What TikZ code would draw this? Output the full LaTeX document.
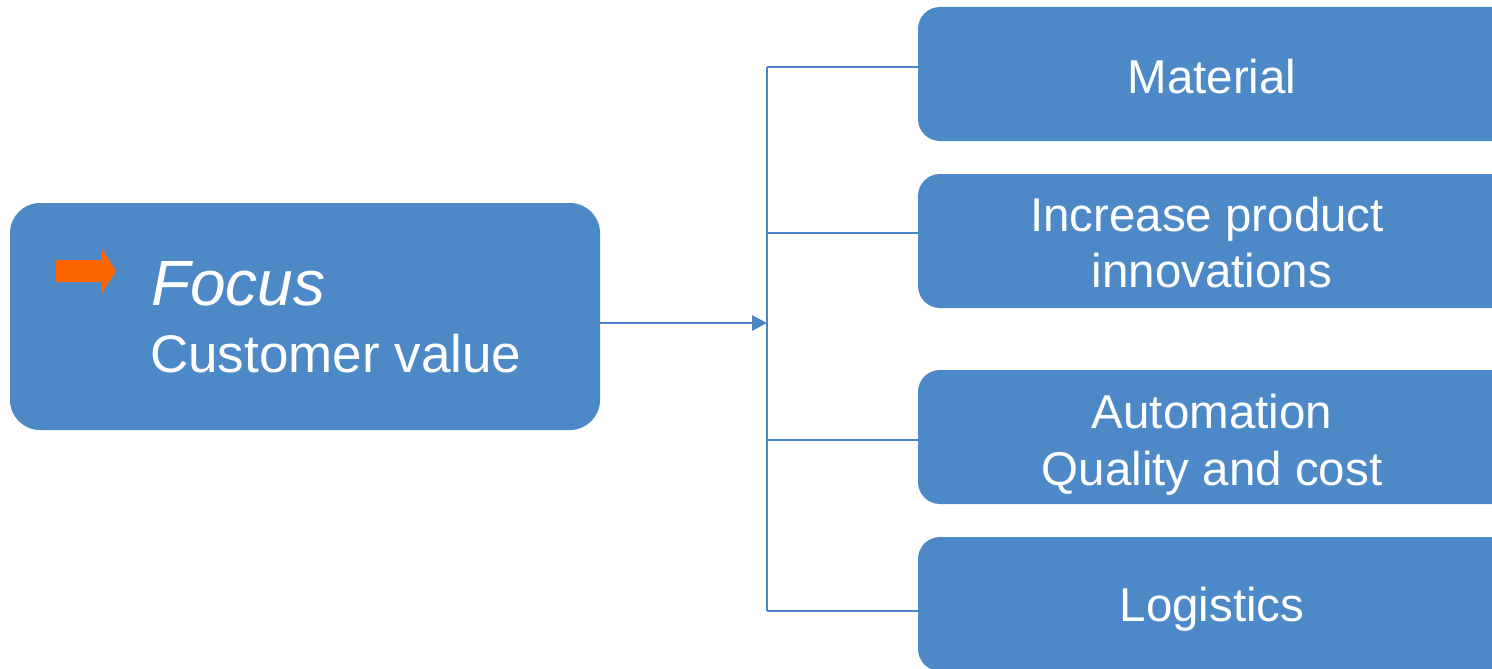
\documentclass[tikz,border=0pt]{standalone}
\usepackage{fontspec}
\setmainfont{Liberation Sans}
\usetikzlibrary{arrows.meta}
\definecolor{boxblue}{RGB}{78,137,199}
\definecolor{lineblue}{RGB}{74,134,197}
\definecolor{focusorange}{RGB}{255,102,0}
\tikzset{
  panel/.style={fill=boxblue, draw=none, rectangle, rounded corners=22pt, inner sep=0pt, outer sep=0pt, anchor=north west},
  sidebox/.style={panel, minimum width=600pt, minimum height=134pt},
  rtext/.style={text=white, inner sep=0pt, anchor=base, font=\fontsize{47.5}{56}\selectfont},
  link/.style={draw=lineblue, line width=2.8pt},
}
\begin{document}
\begin{tikzpicture}[x=1pt,y=-1pt]
\useasboundingbox (0,0) rectangle (1492,669);
% main box
\node[panel, rounded corners=30pt, minimum width=590pt, minimum height=227pt] (main) at (10,203) {};
\fill[focusorange] (56,260) -- (102,260) -- (102,249) -- (116,271) -- (102,293) -- (102,282) -- (56,282) -- cycle;
\node[text=white, inner sep=0pt, anchor=base west, font=\fontsize{64}{72}\selectfont\itshape] (focus) at (151,305) {Focus};
\node[text=white, inner sep=0pt, anchor=base west, font=\fontsize{53}{60}\selectfont] (cv) at (150,372) {Customer value};
% right boxes
\node[sidebox] (b1) at (918,7) {};
\node[sidebox] (b2) at (918,174) {};
\node[sidebox] (b3) at (918,370) {};
\node[sidebox] (b4) at (918,537) {};
\node[rtext] (t1) at (1212,93) {Material};
\node[rtext] (t2a) at (1207,231) {Increase product};
\node[rtext] (t2b) at (1212,287) {innovations};
\node[rtext] (t3a) at (1212,428) {Automation};
\node[rtext] (t3b) at (1212,485) {Quality and cost};
\node[rtext] (t4) at (1212,621) {Logistics};
% connectors
\coordinate (hub) at (767,323);
\coordinate (s1) at (767,67);
\coordinate (s2) at (767,233);
\coordinate (s3) at (767,440);
\coordinate (s4) at (767,611);
\draw[link, -{Triangle[length=15pt, width=15pt]}] (main.east |- hub) -- (hub);
\draw[link] (s1) -- (s4);
\draw[link] (s1) -- (b1.west |- s1);
\draw[link] (s2) -- (b2.west |- s2);
\draw[link] (s3) -- (b3.west |- s3);
\draw[link] (s4) -- (b4.west |- s4);
\end{tikzpicture}
\end{document}
